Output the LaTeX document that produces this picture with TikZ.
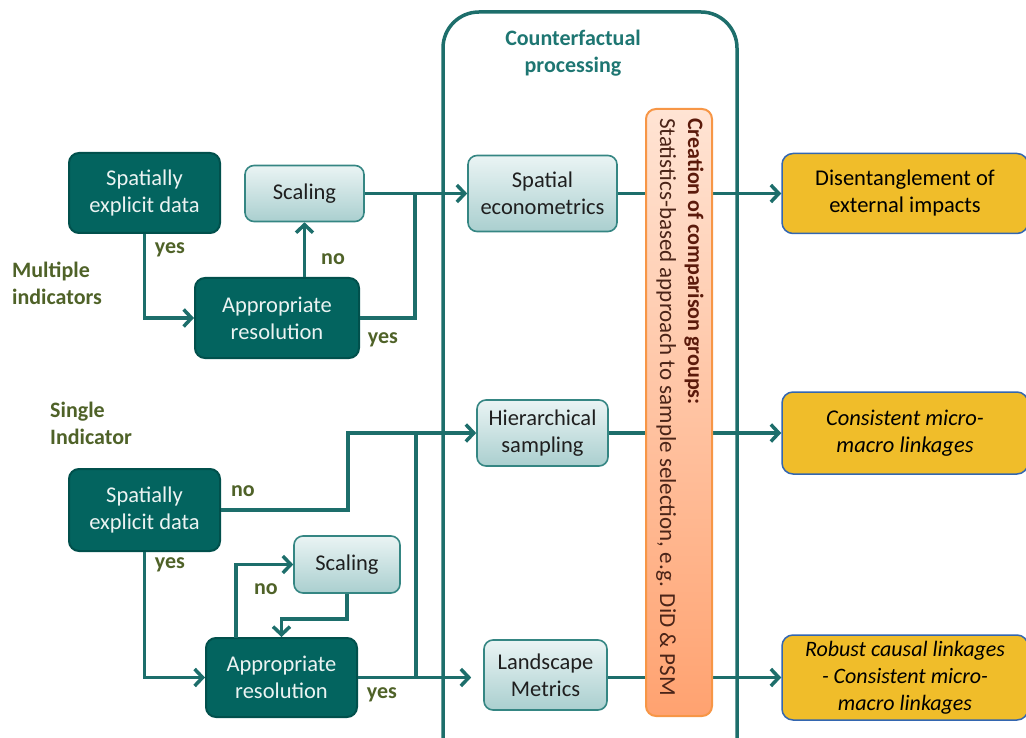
\documentclass[tikz,border=0pt]{standalone}
\usepackage{fontspec}
\setmainfont{Carlito}
\usetikzlibrary{arrows.meta,calc}

\definecolor{darkteal}{HTML}{03645F}
\definecolor{darkedge}{HTML}{01504C}
\definecolor{lighttop}{HTML}{EAF4F4}
\definecolor{lightbot}{HTML}{AACFCF}
\definecolor{lightedge}{HTML}{358683}
\definecolor{flow}{HTML}{1D6E6B}
\definecolor{olive}{HTML}{4F6228}
\definecolor{cftext}{HTML}{1E7672}
\definecolor{gold}{HTML}{F0BD2A}
\definecolor{goldedge}{HTML}{3366B0}
\definecolor{orangeedge}{HTML}{F79646}
\definecolor{orangetop}{HTML}{FFE4D4}
\definecolor{orangebot}{HTML}{FFA270}
\definecolor{redbrown}{HTML}{5B1A0B}
\definecolor{brown}{HTML}{4A2418}

\tikzset{
  txt/.style={font=\fontsize{22.5}{27}\selectfont, align=center, inner sep=0pt},
  darkbox/.style={txt, rounded corners=10pt, fill=darkteal, draw=darkedge,
    line width=2pt, text=white!92!darkteal},
  lightbox/.style={txt, rounded corners=9pt, top color=lighttop,
    bottom color=lightbot, draw=lightedge, line width=1.6pt, text=black!88},
  outbox/.style={txt, rounded corners=11pt, fill=gold, draw=goldedge,
    line width=1.5pt, text=black},
  flowline/.style={draw=flow, line width=3.5pt},
  conn/.style={flowline, -{Straight Barb[length=8pt,width=17pt]}},
  lbl/.style={font=\fontsize{22}{27}\selectfont\bfseries, text=olive,
    inner sep=0pt, align=left},
}

\begin{document}
\begin{tikzpicture}[x=1pt, y=-1pt]
\useasboundingbox (0,0) rectangle (1026,738);

% counterfactual frame
\draw[draw=flow, line width=3.5pt, rounded corners=36pt]
  (443,12) rectangle (737,790);
\node[txt, font=\fontsize{22}{27}\selectfont\bfseries, text=cftext]
  (cftitle) at (573,53) {Counterfactual\\processing};

% multiple indicators branch
\node[darkbox, minimum width=151pt, minimum height=80pt] (sp1) at (144.5,193)
  {Spatially\\explicit data};
\node[lightbox, minimum width=119pt, minimum height=56pt] (sc1) at (304.5,193.5)
  {Scaling};
\node[darkbox, minimum width=164pt, minimum height=80pt] (app1) at (277,318)
  {Appropriate\\resolution};

% single indicator branch
\node[darkbox, minimum width=151pt, minimum height=82pt] (sp2) at (144.5,510)
  {Spatially\\explicit data};
\node[lightbox, minimum width=106pt, minimum height=57pt] (sc2) at (347,564.5)
  {Scaling};
\node[darkbox, minimum width=151pt, minimum height=79pt] (app2) at (281.5,677.5)
  {Appropriate\\resolution};

% methods inside the frame
\node[lightbox, minimum width=149pt, minimum height=76pt] (se) at (542.5,193.5)
  {Spatial\\econometrics};
\node[lightbox, minimum width=131pt, minimum height=66pt] (hs) at (542.5,433)
  {Hierarchical\\sampling};
\node[lightbox, minimum width=123pt, minimum height=70pt] (lm) at (545.5,675)
  {Landscape\\Metrics};

% outcomes
\node[outbox, minimum width=246pt, minimum height=80pt] (o1) at (905,193.5)
  {Disentanglement of\\external impacts};
\node[outbox, minimum width=246pt, minimum height=82pt,
  font=\fontsize{22.5}{27}\selectfont\itshape] (o2) at (905,433)
  {Consistent micro-\\macro linkages};
\node[outbox, minimum width=246pt, minimum height=85pt,
  font=\fontsize{22}{27}\selectfont\itshape] (o3) at (905,677.5)
  {Robust causal linkages\\- Consistent micro-\\macro linkages};

% lines from the methods to the outcomes
\draw[conn] (se.east) -- (o1.west);
\draw[conn] (hs.east) -- (o2.west);
\draw[conn] (lm.east |- o3.west) -- (o3.west);

% comparison groups bar
\draw[draw=orangeedge, line width=2pt, rounded corners=10pt,
  top color=orangetop, bottom color=orangebot] (646,109) rectangle (712,716);
\node[rotate=-90, anchor=west, inner sep=0pt, align=left,
  font=\fontsize{23}{28}\selectfont] (cmp) at (680,118)
  {{\fontsize{22}{28}\selectfont\bfseries\color{redbrown}Creation of comparison groups:}\\
   \textcolor{brown}{Statistics-based approach to sample selection, e.g. DiD \& PSM}};

% junction points
\coordinate (j1) at (415,193.5);
\coordinate (k1) at (348,433);
\coordinate (j2) at (416,433);
\coordinate (j3) at (416,677.5);
\coordinate (l2) at (236,638);

% connectors, multiple indicators
\draw[conn] (sp1.south) |- (app1.west);
\draw[conn] (app1.north -| sc1.south) -- (sc1.south);
\draw[conn] (sc1.east) -- (se.west);
\draw[flowline] (app1.east) -| (j1);

% connectors, single indicator
\draw[conn] (sp2.east) -| (k1) -- (hs.west);
\draw[flowline] (j2) -- (j3);
\draw[conn, shorten >=12pt] (app2.east) -- (app2.east -| lm.west);
\draw[conn] (sp2.south) |- (app2.west);
\draw[conn] (l2) |- (sc2.west);
\draw[conn] (sc2.south) -- ++(0,25) -| (app2.north);

% labels
\node[lbl, anchor=west] (mi) at (12,283.5) {Multiple\\indicators};
\node[lbl] (y1) at (170,250) {yes};
\node[lbl] (n1) at (333,259) {no};
\node[lbl] (y2) at (383,340) {yes};
\node[lbl, anchor=west] (si) at (50,423.5) {Single\\Indicator};
\node[lbl] (n2) at (243,491) {no};
\node[lbl] (y3) at (170,565) {yes};
\node[lbl] (n3) at (266,589) {no};
\node[lbl] (y4) at (382,695) {yes};
\end{tikzpicture}
\end{document}
